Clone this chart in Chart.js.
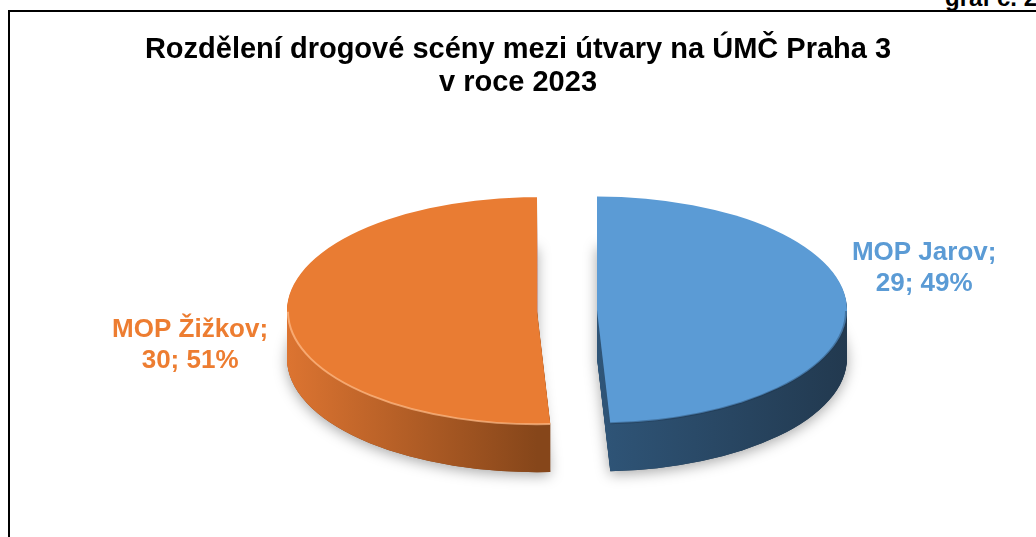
<!DOCTYPE html>
<html lang="cs">
<head>
    <meta charset="UTF-8">
    <title>Rozdělení drogové scény 2023</title>
    <script src="https://cdn.jsdelivr.net/npm/chart.js"></script>
    <style>
        html, body { margin: 0; padding: 0; width: 1036px; height: 537px; overflow: hidden; background: #fff; }
        #frame { position: absolute; left: 8px; top: 10px; width: 1100px; height: 600px; border: 2px solid #000; }
        #graf { position: absolute; left: 945px; top: -16px; line-height: 28px; font: bold 24px "Liberation Sans", Arial, sans-serif; white-space: nowrap; }
        #wrap { position: absolute; left: 0; top: 0; width: 1036px; height: 537px; }
    </style>
</head>
<body>
    <div id="graf">graf č. 2</div>
    <div id="frame"></div>
    <div id="wrap"><canvas id="pieChart"></canvas></div>

    <script>
        // data
        const labels = ['MOP Jarov', 'MOP Žižkov'];
        const counts = [29, 30];
        const titleLines = ['Rozdělení drogové scény mezi útvary na ÚMČ Praha 3', 'v roce 2023'];

        // styles
        const topColors = ['#5b9bd5', '#e97c33'];
        const labelColors = ['#5b9bd5', '#ed7d31'];
        const sideColors = [['#2f5578', '#22394f'], ['#dc7431', '#86461a']];
        const rimColors = ['rgba(25,45,70,0.35)', 'rgba(255,190,140,0.7)'];
        const FONT = '"Liberation Sans", Arial, sans-serif';

        // fake 3D: squash the pie vertically and extrude it downwards
        const pie3d = {
            id: 'pie3d',
            beforeDatasetsDraw(chart, args, opts) {
                const ctx = chart.ctx;
                const k = opts.tilt, depth = opts.depth;
                const slices = chart.getDatasetMeta(0).data.map((arc, i) => {
                    const p = arc.getProps(['x', 'y', 'startAngle', 'endAngle', 'outerRadius']);
                    const mid = (p.startAngle + p.endAngle) / 2;
                    const off = arc.options.offset;
                    return {
                        i, r: p.outerRadius, a0: p.startAngle, a1: p.endAngle, mid,
                        x: p.x + opts.shiftX + Math.cos(mid) * off,
                        y: p.y + Math.sin(mid) * off * k
                    };
                });
                chart.$slices = slices;

                const path = (s, dy) => {
                    ctx.beginPath();
                    ctx.moveTo(s.x, s.y + dy);
                    ctx.ellipse(s.x, s.y + dy, s.r, s.r * k, 0, s.a0, s.a1);
                    ctx.closePath();
                };

                // soft shadow under the pie
                slices.forEach(s => {
                    ctx.save();
                    ctx.shadowColor = 'rgba(0,0,0,0.35)';
                    ctx.shadowBlur = 14;
                    ctx.shadowOffsetY = 3;
                    path(s, depth);
                    ctx.fillStyle = sideColors[s.i][1];
                    ctx.fill();
                    ctx.restore();
                });

                // sides
                slices.forEach(s => {
                    const right = Math.cos(s.mid) >= 0;
                    const x0 = right ? s.x : s.x - s.r;
                    const x1 = right ? s.x + s.r : s.x;
                    const g = ctx.createLinearGradient(x0, 0, x1, 0);
                    g.addColorStop(0, sideColors[s.i][0]);
                    g.addColorStop(1, sideColors[s.i][1]);
                    ctx.fillStyle = g;
                    for (let dy = depth; dy >= 1; dy--) {
                        path(s, dy);
                        ctx.fill();
                    }
                });

                // top faces
                slices.forEach(s => {
                    path(s, 0);
                    ctx.fillStyle = topColors[s.i];
                    ctx.fill();
                    // bevel on the front edge
                    const f0 = Math.max(s.a0, 0), f1 = Math.min(s.a1, Math.PI);
                    if (f1 > f0) {
                        ctx.save();
                        ctx.beginPath();
                        ctx.ellipse(s.x, s.y + 1, s.r - 1, s.r * k - 1, 0, f0, f1);
                        ctx.strokeStyle = rimColors[s.i];
                        ctx.lineWidth = 2;
                        ctx.stroke();
                        ctx.restore();
                    }
                });
                return false;
            },
            afterDraw(chart, args, opts) {
                const slices = chart.$slices;
                if (!slices) return;
                const ctx = chart.ctx;
                const k = opts.tilt;
                const total = counts.reduce((a, b) => a + b, 0);
                ctx.save();
                ctx.font = 'bold 26px ' + FONT;
                ctx.textAlign = 'center';
                ctx.textBaseline = 'middle';
                slices.forEach(s => {
                    const lines = [labels[s.i] + ';', counts[s.i] + '; ' + Math.round(counts[s.i] / total * 100) + '%'];
                    const w = Math.max(...lines.map(l => ctx.measureText(l).width));
                    const ax = s.x + s.r * Math.cos(s.mid);
                    const ay = s.y + s.r * k * Math.sin(s.mid);
                    const n = opts.labelNudge[s.i];
                    const bx = Math.cos(s.mid) >= 0 ? ax + n[0] + w / 2 : ax + n[0] - w / 2;
                    const by = ay + n[1];
                    ctx.fillStyle = labelColors[s.i];
                    lines.forEach((l, j) => ctx.fillText(l, bx, by + (j - (lines.length - 1) / 2) * 31));
                });
                ctx.restore();
            }
        };

        new Chart(document.getElementById('pieChart'), {
            type: 'pie',
            data: {
                labels: labels,
                datasets: [{
                    data: counts,
                    backgroundColor: topColors,
                    borderWidth: 0,
                    offset: 30
                }]
            },
            options: {
                responsive: true,
                maintainAspectRatio: false,
                animation: false,
                events: [],
                radius: 250,
                layout: { padding: { top: 0, bottom: 26, left: 0, right: 0 } },
                plugins: {
                    legend: { display: false },
                    tooltip: { enabled: false },
                    title: {
                        display: true,
                        text: titleLines,
                        color: '#000',
                        font: { family: FONT, size: 29, weight: 'bold', lineHeight: 1.15 },
                        padding: { top: 33, bottom: 10 }
                    },
                    pie3d: {
                        tilt: 0.454,
                        depth: 48,
                        shiftX: 49,
                        labelNudge: [[5, -39], [-19, 32]]
                    }
                }
            },
            plugins: [pie3d]
        });
    </script>
</body>
</html>
